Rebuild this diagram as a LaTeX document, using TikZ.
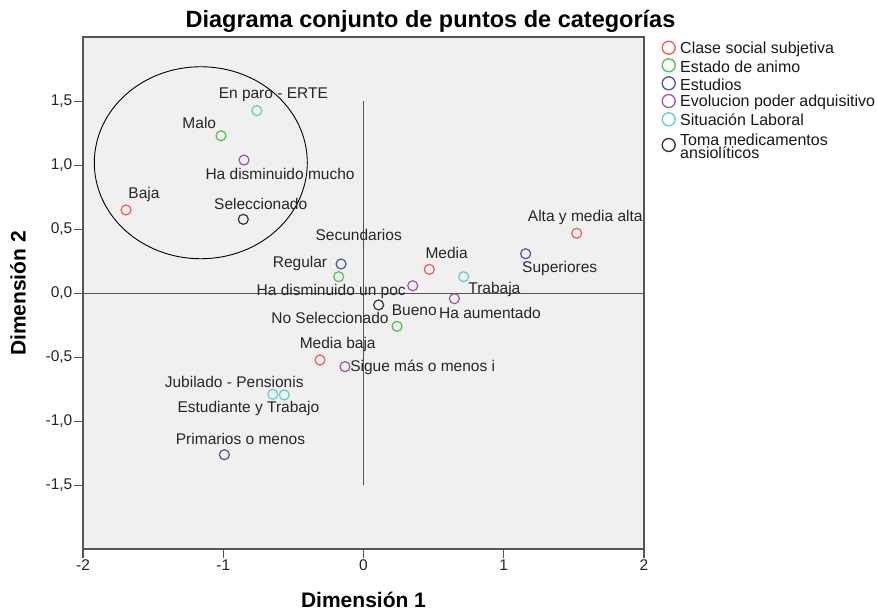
\documentclass[tikz,border=0pt]{standalone}
\usepackage{fontspec}
\setmainfont{Liberation Sans}
\usetikzlibrary{positioning}

\definecolor{catRed}{HTML}{EE5A5A}
\definecolor{catGreen}{HTML}{4CC24C}
\definecolor{catBlue}{HTML}{52529E}
\definecolor{catPurple}{HTML}{A452A8}
\definecolor{catCyan}{HTML}{5CCFD0}
\definecolor{catBlack}{HTML}{333333}
\definecolor{plotBg}{HTML}{F0F0F0}
\definecolor{frameGray}{HTML}{555555}

\tikzset{
    pnt/.style={circle,draw=#1,line width=1.2pt,minimum size=10pt,inner sep=0pt},
    keypnt/.style={circle,draw=#1,line width=1.3pt,minimum size=13pt,inner sep=0pt},
    lbl/.style={font=\fontsize{15.5}{17}\selectfont,text=black!85,inner sep=0pt},
    ticklbl/.style={font=\fontsize{15.5}{17}\selectfont,text=black!85,inner sep=1pt},
    keylbl/.style={font=\fontsize{16}{18}\selectfont,text=black!90,inner sep=0pt,anchor=west},
}

\begin{document}
\begin{tikzpicture}[x=1pt,y=-1pt]
    \useasboundingbox (0,0) rectangle (877,611);
    \fill[white] (0,0) rectangle (877,611);

    % title and axis names
    \node[font=\bfseries\fontsize{23.5}{26}\selectfont] (title) at (430.5,21) {Diagrama conjunto de puntos de categorías};
    \node[font=\bfseries\fontsize{21}{24}\selectfont] (dimx) at (363.5,600) {Dimensión 1};
    \node[font=\bfseries\fontsize{21}{24}\selectfont,rotate=90] (dimy) at (18,293.5) {Dimensión 2};

    \begin{scope}[shift={(363.5,293.3)},x=140.25pt,y=128pt]
        % plot area
        \fill[plotBg] (-2,-2) rectangle (2,2);
        \draw[frameGray,line width=1.8pt] (-2,-2) rectangle (2,2);
        \draw[frameGray,line width=1.6pt] (0,-1.5) -- (0,1.5);
        \draw[frameGray,line width=1.6pt] (-2,0) -- (2,0);

        % ticks
        \draw[frameGray,line width=1.4pt] (-2,-2) -- ++(0,-9pt) node[ticklbl,anchor=north] (tx1) {-2};
        \draw[frameGray,line width=1.4pt] (-1,-2) -- ++(0,-9pt) node[ticklbl,anchor=north] (tx2) {-1};
        \draw[frameGray,line width=1.4pt] (0,-2) -- ++(0,-9pt) node[ticklbl,anchor=north] (tx3) {0};
        \draw[frameGray,line width=1.4pt] (1,-2) -- ++(0,-9pt) node[ticklbl,anchor=north] (tx4) {1};
        \draw[frameGray,line width=1.4pt] (2,-2) -- ++(0,-9pt) node[ticklbl,anchor=north] (tx5) {2};
        \draw[frameGray,line width=1.4pt] (-2,1.5) -- ++(-9pt,0) node[ticklbl,anchor=east] (ty1) {1,5};
        \draw[frameGray,line width=1.4pt] (-2,1) -- ++(-9pt,0) node[ticklbl,anchor=east] (ty2) {1,0};
        \draw[frameGray,line width=1.4pt] (-2,0.5) -- ++(-9pt,0) node[ticklbl,anchor=east] (ty3) {0,5};
        \draw[frameGray,line width=1.4pt] (-2,0) -- ++(-9pt,0) node[ticklbl,anchor=east] (ty4) {0,0};
        \draw[frameGray,line width=1.4pt] (-2,-0.5) -- ++(-9pt,0) node[ticklbl,anchor=east] (ty5) {-0,5};
        \draw[frameGray,line width=1.4pt] (-2,-1) -- ++(-9pt,0) node[ticklbl,anchor=east] (ty6) {-1,0};
        \draw[frameGray,line width=1.4pt] (-2,-1.5) -- ++(-9pt,0) node[ticklbl,anchor=east] (ty7) {-1,5};

        % group ring
        \draw[black,line width=0.9pt] (-1.160,1.020) ellipse (106.5pt and 96pt);

        % Clase social subjetiva
        \node[pnt=catRed] (baja) at (-1.693,0.651) {};
        \node[pnt=catRed] (media) at (0.469,0.187) {};
        \node[pnt=catRed] (alta) at (1.520,0.469) {};
        \node[pnt=catRed] (mediabaja) at (-0.310,-0.521) {};
        % Estado de animo
        \node[pnt=catGreen] (malo) at (-1.016,1.231) {};
        \node[pnt=catGreen] (regular) at (-0.177,0.130) {};
        \node[pnt=catGreen] (bueno) at (0.239,-0.258) {};
        % Estudios
        \node[pnt=catBlue] (secund) at (-0.160,0.229) {};
        \node[pnt=catBlue] (superior) at (1.156,0.309) {};
        \node[pnt=catBlue] (primario) at (-0.992,-1.261) {};
        % Evolucion poder adquisitivo
        \node[pnt=catPurple] (dismucho) at (-0.852,1.041) {};
        \node[pnt=catPurple] (dispoco) at (0.351,0.059) {};
        \node[pnt=catPurple] (aumento) at (0.648,-0.042) {};
        \node[pnt=catPurple] (sigue) at (-0.132,-0.573) {};
        % Situacion laboral
        \node[pnt=catCyan] (paro) at (-0.761,1.427) {};
        \node[pnt=catCyan] (trabaja) at (0.714,0.130) {};
        \node[pnt=catCyan] (jubilado) at (-0.647,-0.789) {};
        \node[pnt=catCyan] (estudia) at (-0.565,-0.794) {};
        % Toma medicamentos
        \node[pnt=catBlack] (selec) at (-0.857,0.578) {};
        \node[pnt=catBlack] (noselec) at (0.108,-0.091) {};

        % point labels
        \node[lbl] (bajaL) at (-1.565,0.773) {Baja};
        \node[lbl] (mediaL) at (0.593,0.3125) {Media};
        \node[lbl] (altaL) at (1.581,0.594) {Alta y media alta};
        \node[lbl] (mediabajaL) at (-0.184,-0.396) {Media baja};
        \node[lbl] (maloL) at (-1.171,1.328) {Malo};
        \node[lbl] (regularL) at (-0.453,0.234) {Regular};
        \node[lbl] (buenoL) at (0.362,-0.130) {Bueno};
        \node[lbl] (secundL) at (-0.034,0.455) {Secundarios};
        \node[lbl] (superiorL) at (1.399,0.195) {Superiores};
        \node[lbl] (primarioL) at (-0.877,-1.141) {Primarios o menos};
        \node[lbl] (dismuchoL) at (-0.595,0.930) {Ha disminuido mucho};
        \node[lbl] (dispocoL) at (-0.230,0.0125) {Ha disminuido un poc};
        \node[lbl] (aumentoL) at (0.902,-0.156) {Ha aumentado};
        \node[lbl] (sigueL) at (0.422,-0.578) {Sigue más o menos i};
        \node[lbl] (paroL) at (-0.643,1.550) {En paro - ERTE};
        \node[lbl] (trabajaL) at (0.933,0.026) {Trabaja};
        \node[lbl] (jubiladoL) at (-0.922,-0.691) {Jubilado - Pensionis};
        \node[lbl] (estudiaL) at (-0.821,-0.898) {Estudiante y Trabajo};
        \node[lbl] (selecL) at (-0.733,0.700) {Seleccionado};
        \node[lbl] (noselecL) at (-0.239,-0.195) {No Seleccionado};
    \end{scope}

    % legend
    \node[keypnt=catRed] (k1) at (668.7,47.7) {};
    \node[keypnt=catGreen] (k2) at (668.7,65.3) {};
    \node[keypnt=catBlue] (k3) at (668.7,83.3) {};
    \node[keypnt=catPurple] (k4) at (668.7,101) {};
    \node[keypnt=catCyan] (k5) at (668.7,119.3) {};
    \node[keypnt=catBlack] (k6) at (668.7,145) {};
    \node[keylbl] (k1L) at (680,49) {Clase social subjetiva};
    \node[keylbl] (k2L) at (680,66.7) {Estado de animo};
    \node[keylbl] (k3L) at (680,85) {Estudios};
    \node[keylbl] (k4L) at (680,102.3) {Evolucion poder adquisitivo};
    \node[keylbl] (k5L) at (680,120) {Situación Laboral};
    \node[keylbl,anchor=base west] (k6L) at (680,145) {Toma medicamentos};
    \node[keylbl,anchor=base west] (k6M) at (680,158.5) {ansiolíticos};
\end{tikzpicture}
\end{document}
